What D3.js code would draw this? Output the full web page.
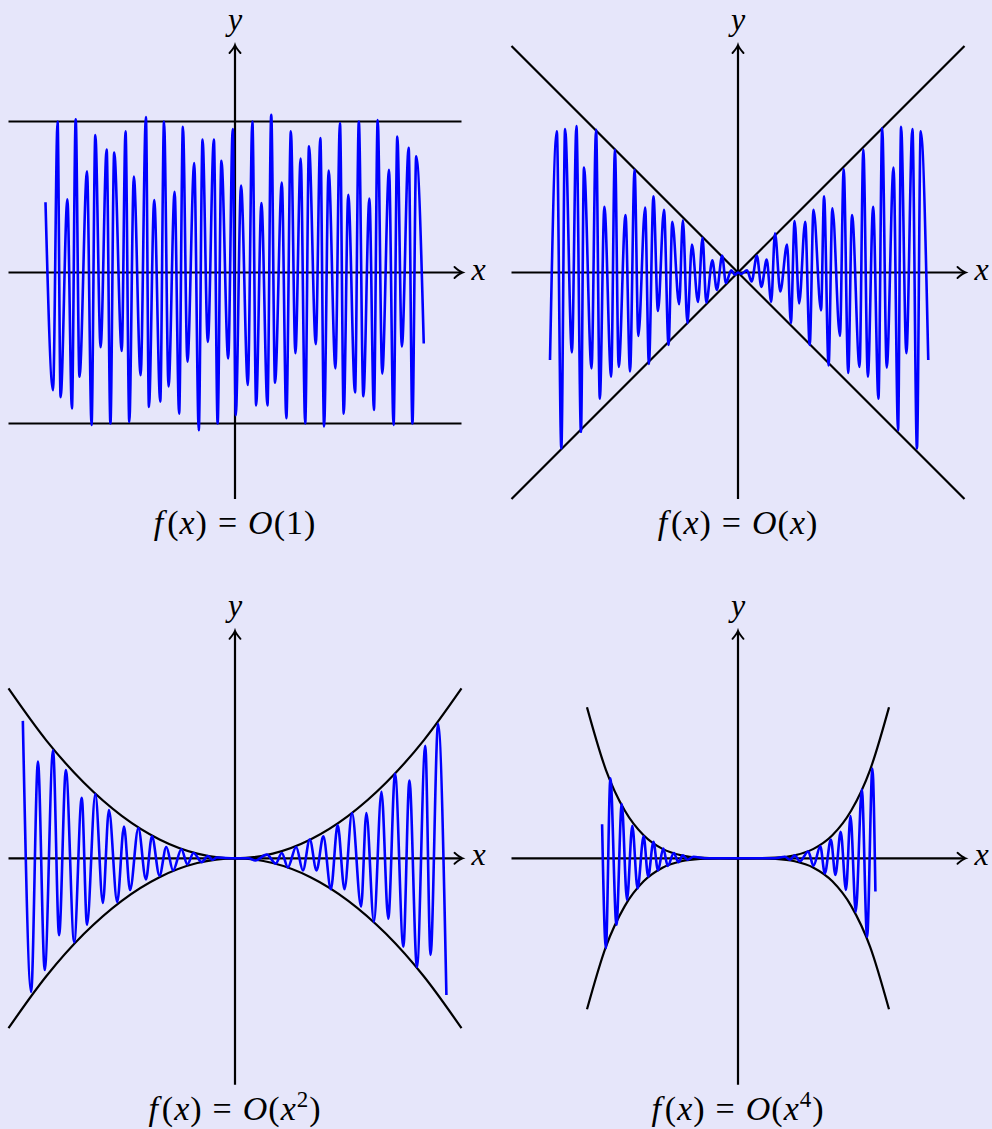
<!DOCTYPE html>
<html>
<head>
<meta charset="utf-8">
<script src="https://cdn.jsdelivr.net/npm/d3@7"></script>
<style>
body { margin: 0; background: #e6e6fa; }
svg { display: block; }
</style>
</head>
<body>
<script>
// extrema of the blue curves (x, y in axis units)
var wave1 = [[-2.51,0.93],[-2.41,-1.56],[-2.35,2.0],[-2.31,-1.65],[-2.22,0.97],[-2.16,-1.8],[-2.11,2.03],[-2.06,-1.38],
  [-1.96,1.34],[-1.9,-2.02],[-1.85,1.82],[-1.78,-0.99],[-1.7,1.63],[-1.65,-2.0],[-1.6,1.59],[-1.5,-1.04],[-1.45,1.87],
  [-1.4,-1.98],[-1.34,1.27],[-1.25,-1.36],[-1.18,2.06],[-1.14,-1.78],[-1.07,0.96],[-0.99,-1.71],[-0.94,2.0],[-0.88,-1.51],
  [-0.8,1.07],[-0.74,-1.87],[-0.69,1.93],[-0.63,-1.18],[-0.54,1.45],[-0.48,-2.09],[-0.43,1.76],[-0.36,-0.92],[-0.28,1.76],
  [-0.23,-2.0],[-0.18,1.48],[-0.09,-1.14],[-0.03,1.9],[0.01,-1.89],[0.08,1.15],[0.17,-1.49],[0.23,2.0],[0.28,-1.76],
  [0.35,0.92],[0.43,-1.76],[0.48,2.09],[0.53,-1.46],[0.62,1.19],[0.68,-1.93],[0.74,1.87],[0.8,-1.07],[0.87,1.51],
  [0.93,-2.0],[0.98,1.67],[1.07,-0.95],[1.13,1.78],[1.18,-2.04],[1.24,1.35],[1.33,-1.27],[1.39,1.98],[1.44,-1.87],
  [1.5,1.03],[1.59,-1.59],[1.64,2.0],[1.7,-1.64],[1.78,0.98],[1.84,-1.82],[1.89,2.02],[1.95,-1.34],[2.04,1.36],
  [2.1,-2.02],[2.15,1.8],[2.21,-0.98],[2.3,1.65],[2.35,-2.0],[2.4,1.54],[2.5,-0.94]];

var wave2 = [[-2.49,-1.16],[-2.4,1.87],[-2.34,-2.33],[-2.29,1.9],[-2.2,-1.06],[-2.14,1.94],[-2.08,-2.11],[-2.04,1.39],
  [-1.94,-1.27],[-1.88,1.89],[-1.83,-1.67],[-1.77,0.87],[-1.68,-1.38],[-1.63,1.63],[-1.58,-1.25],[-1.49,0.76],
  [-1.43,-1.31],[-1.37,1.36],[-1.32,-0.84],[-1.23,0.86],[-1.18,-1.21],[-1.12,1.01],[-1.06,-0.51],[-0.98,0.83],
  [-0.92,-0.96],[-0.87,0.67],[-0.78,-0.42],[-0.73,0.69],[-0.67,-0.67],[-0.61,0.37],[-0.53,-0.39],[-0.47,0.46],
  [-0.42,-0.4],[-0.34,0.16],[-0.28,-0.23],[-0.21,0.22],[-0.16,-0.14],[-0.09,0.03],[-0.04,-0.03],[0,0],[0.04,-0.02],
  [0.12,0.03],[0.18,-0.12],[0.25,0.22],[0.31,-0.19],[0.38,0.17],[0.44,-0.39],[0.49,0.52],[0.56,-0.25],[0.65,0.37],
  [0.7,-0.67],[0.75,0.68],[0.81,-0.41],[0.89,0.67],[0.95,-0.96],[1.0,0.83],[1.1,-0.5],[1.14,1.01],[1.2,-1.23],
  [1.25,0.85],[1.35,-0.84],[1.4,1.37],[1.46,-1.33],[1.51,0.76],[1.61,-1.25],[1.66,1.63],[1.72,-1.38],[1.79,0.87],
  [1.86,-1.67],[1.91,1.91],[1.97,-1.26],[2.06,1.39],[2.12,-2.09],[2.16,1.93],[2.23,-1.07],[2.31,1.9],[2.37,-2.33],
  [2.42,1.87],[2.52,-1.16]];

var wave3 = [[-2.81,1.82],[-2.7,-1.77],[-2.61,1.28],[-2.52,-1.48],[-2.41,1.43],[-2.33,-1.02],[-2.24,1.17],[-2.13,-1.11],
  [-2.03,0.8],[-1.96,-0.88],[-1.85,0.85],[-1.75,-0.59],[-1.67,0.64],[-1.56,-0.58],[-1.47,0.42],[-1.39,-0.42],
  [-1.28,0.4],[-1.18,-0.28],[-1.1,0.29],[-1.0,-0.23],[-0.91,0.15],[-0.82,-0.16],[-0.71,0.12],[-0.63,-0.08],
  [-0.55,0.07],[-0.44,-0.05],[-0.36,0.03],[-0.3,-0.02],[-0.24,0.01],[0,0],[0.18,0],[0.27,-0.03],[0.42,0.05],
  [0.54,-0.07],[0.62,0.07],[0.7,-0.12],[0.81,0.15],[0.9,-0.16],[0.99,0.25],[1.08,-0.16],[1.17,0.29],[1.27,-0.41],
  [1.36,0.44],[1.45,-0.41],[1.55,0.6],[1.67,-0.64],[1.74,0.6],[1.84,-0.84],[1.94,0.88],[2.03,-0.8],[2.12,1.12],
  [2.23,-1.17],[2.31,1.03],[2.41,-1.44],[2.52,1.49],[2.59,-1.28],[2.69,1.78],[2.8,-1.81]];

var wave4 = [[-1.8,0.45],[-1.75,-1.19],[-1.69,1.06],[-1.61,-0.88],[-1.54,0.72],[-1.47,-0.55],[-1.4,0.43],[-1.33,-0.4],
  [-1.25,0.29],[-1.19,-0.24],[-1.12,0.22],[-1.06,-0.16],[-0.99,0.13],[-0.93,-0.1],[-0.85,0.07],[-0.79,-0.05],
  [-0.73,0.04],[-0.67,-0.02],[-0.59,0.02],[-0.44,0],[0.49,0],[0.62,0.02],[0.69,-0.02],[0.75,0.04],[0.82,-0.04],
  [0.93,0.09],[1.0,-0.1],[1.09,0.16],[1.15,-0.2],[1.23,0.25],[1.29,-0.22],[1.36,0.35],[1.43,-0.42],[1.49,0.56],
  [1.56,-0.71],[1.64,0.91],[1.71,-1.04],[1.78,1.19],[1.82,-0.44]];

// upper envelopes (the lower one is the mirror image)
var env1 = [[-3,2],[3,2]];
var env2 = [[-3,3],[0,0],[3,3]];
var env3 = [[-3,2.25],[-2.5,1.5625],[-2,1],[-1.5,0.5625],[-1,0.25],[-0.5,0.0625],[0,0],
  [0.5,0.0625],[1,0.25],[1.5,0.5625],[2,1],[2.5,1.5625],[3,2.25]];
var env4 = [[-2,2],[-1.75,1.1724],[-1.5,0.6328],[-1.25,0.3052],[-1,0.125],[-0.75,0.0396],[-0.5,0.0078],[-0.25,0.0005],
  [0,0],[0.25,0.0005],[0.5,0.0078],[0.75,0.0396],[1,0.125],[1.25,0.3052],[1.5,0.6328],[1.75,1.1724],[2,2]];

var captionArg = ["1", "x", "x", "x"];
var captionExp = ["", "", "2", "4"];
var axisRange = [-3, 3];

var waves = [wave1, wave2, wave3, wave4];
var envs = [env1, env2, env3, env4];
var envCurves = [d3.curveLinear, d3.curveLinear, d3.curveMonotoneX, d3.curveMonotoneX];

var w = 992, h = 1129, half = 226.5;
var spots = [
  {cx: 235, cy: 272.5, capY: 534},
  {cx: 738, cy: 272.5, capY: 534},
  {cx: 235, cy: 858.3, capY: 1120},
  {cx: 738, cy: 858.3, capY: 1120}
];
var serif = "Liberation Serif";

var svg = d3.select("body").append("svg")
  .attr("width", w)
  .attr("height", h);

svg.append("rect").attr("width", w).attr("height", h).attr("fill", "#e6e6fa");

function arrowRight(x, y) {
  return "M" + (x - 8) + "," + (y - 5.5) + "Q" + (x - 3) + "," + (y - 1) + " " + x + "," + y +
    "Q" + (x - 3) + "," + (y + 1) + " " + (x - 8) + "," + (y + 5.5);
}
function arrowUp(x, y) {
  return "M" + (x - 5.5) + "," + (y + 8) + "Q" + (x - 1) + "," + (y + 3) + " " + x + "," + y +
    "Q" + (x + 1) + "," + (y + 3) + " " + (x + 5.5) + "," + (y + 8);
}

spots.forEach(function (s, i) {
  var sx = d3.scaleLinear().domain(axisRange).range([s.cx - half, s.cx + half]);
  var sy = d3.scaleLinear().domain(axisRange).range([s.cy + half, s.cy - half]);
  var g = svg.append("g");

  // axes
  g.append("line")
    .attr("x1", sx(axisRange[0])).attr("x2", sx(axisRange[1]))
    .attr("y1", sy(0)).attr("y2", sy(0))
    .attr("stroke", "#000").attr("stroke-width", 2.2);
  g.append("line")
    .attr("x1", sx(0)).attr("x2", sx(0))
    .attr("y1", sy(axisRange[0])).attr("y2", sy(axisRange[1]))
    .attr("stroke", "#000").attr("stroke-width", 2.2);
  g.append("path")
    .attr("d", arrowRight(sx(axisRange[1]) + 1, sy(0)))
    .attr("fill", "none").attr("stroke", "#000").attr("stroke-width", 1.9).attr("stroke-linecap", "round");
  g.append("path")
    .attr("d", arrowUp(sx(0), sy(axisRange[1]) - 1))
    .attr("fill", "none").attr("stroke", "#000").attr("stroke-width", 1.9).attr("stroke-linecap", "round");

  g.append("text")
    .attr("x", sx(axisRange[1]) + 10).attr("y", sy(0) + 7)
    .attr("font-family", serif).attr("font-style", "italic").attr("font-size", 32)
    .text("x");
  g.append("text")
    .attr("x", sx(0)).attr("y", sy(axisRange[1]) - 16)
    .attr("text-anchor", "middle")
    .attr("font-family", serif).attr("font-style", "italic").attr("font-size", 32)
    .text("y");

  // envelopes
  [1, -1].forEach(function (sign) {
    var env = d3.line()
      .x(function (d) { return sx(d[0]); })
      .y(function (d) { return sy(sign * d[1]); })
      .curve(envCurves[i]);
    g.append("path")
      .datum(envs[i])
      .attr("d", env)
      .attr("fill", "none").attr("stroke", "#000").attr("stroke-width", 2.2);
  });

  // the blue function
  var line = d3.line()
    .x(function (d) { return sx(d[0]); })
    .y(function (d) { return sy(d[1]); })
    .curve(d3.curveMonotoneX);
  g.append("path")
    .datum(waves[i])
    .attr("d", line)
    .attr("fill", "none").attr("stroke", "#0000ff").attr("stroke-width", 2.6);

  // caption f(x) = O(...)
  var t = g.append("text")
    .attr("x", s.cx).attr("y", s.capY)
    .attr("text-anchor", "middle")
    .attr("font-family", serif).attr("font-size", 34)
    .attr("letter-spacing", 1);
  t.append("tspan").attr("font-style", "italic").text("f");
  t.append("tspan").attr("dx", 3).text("(");
  t.append("tspan").attr("font-style", "italic").text("x");
  t.append("tspan").text(")");
  t.append("tspan").attr("dx", 10).text("=");
  t.append("tspan").attr("dx", 10).attr("font-style", "italic").text("O");
  t.append("tspan").text("(");
  t.append("tspan").attr("font-style", captionArg[i] == "x" ? "italic" : "normal").text(captionArg[i]);
  if (captionExp[i]) {
    t.append("tspan").attr("dy", -13).attr("font-size", 23).text(captionExp[i]);
    t.append("tspan").attr("dy", 13).text(")");
  } else {
    t.append("tspan").text(")");
  }
});
</script>
</body>
</html>
